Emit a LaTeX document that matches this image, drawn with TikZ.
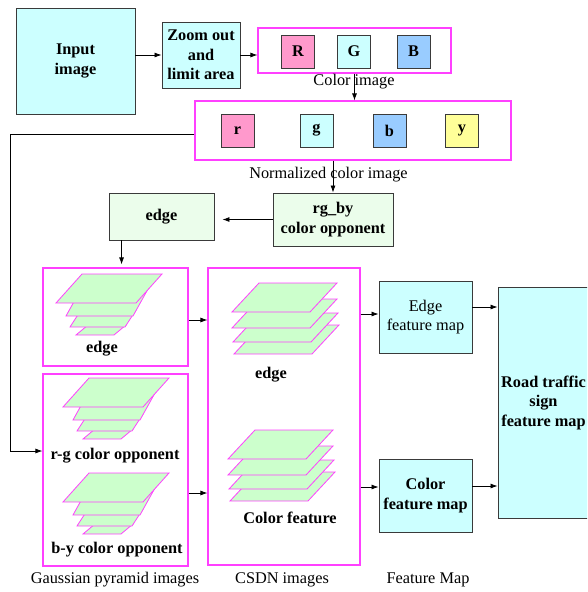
\documentclass[tikz,border=0pt]{standalone}
\usepackage{fontspec}
\setmainfont{Liberation Serif}
\usetikzlibrary{arrows.meta}

\definecolor{cyanfill}{HTML}{CCFFFF}
\definecolor{pinkfill}{HTML}{FF99CC}
\definecolor{bluefill}{HTML}{99CCFF}
\definecolor{yellowfill}{HTML}{FFFF99}
\definecolor{mintfill}{HTML}{EBFDEB}
\definecolor{sheetgreen}{HTML}{CCFFCC}
\definecolor{pinkline}{HTML}{FF40FF}
\definecolor{edgegray}{HTML}{3A3A3A}

\newcommand{\fsz}{\fontsize{16.3}{19.5}\selectfont}
% one tilted image layer: lower left corner, width, height, skew
\newcommand{\sheet}[5]{\draw[sheetstyle] (#1,#2) -- ++(#3,0) -- ++(#5,-#4) -- ++(-#3,0) -- cycle;}
% pyramid of shrinking layers, top layer drawn last
\newcommand{\gpyr}[2]{%
  \sheet{#1+20}{#2+32}{38}{10}{12}
  \sheet{#1+14}{#2+24}{55}{17}{11}
  \sheet{#1+10}{#2+13}{67}{27}{15}
  \sheet{#1}{#2}{80}{29}{26}}
% stack of equal layers
\newcommand{\cstack}[2]{%
  \sheet{#1+2}{#2+42}{78}{29}{27}
  \sheet{#1+1}{#2+30}{78}{29}{27}
  \sheet{#1}{#2+16}{78}{29}{27}
  \sheet{#1}{#2}{78}{29}{27}}

\begin{document}
\begin{tikzpicture}[x=1pt, y=-1pt,
  box/.style={draw=edgegray, line width=0.9pt, inner sep=0pt, align=center, font=\fsz\bfseries},
  chan/.style={box, minimum width=33pt, minimum height=33pt},
  group/.style={draw=pinkline, line width=1.1pt, inner sep=0pt},
  sheetstyle/.style={draw=pinkline, fill=sheetgreen, line width=0.8pt},
  arr/.style={-{Latex[length=7pt,width=5pt]}, line width=0.8pt},
  lbl/.style={font=\fsz, inner sep=0pt}]
  \useasboundingbox (0,0) rectangle (587,592);
  \clip (0,0) rectangle (587,592);

  % input and preprocessing
  \node[box, fill=cyanfill, minimum width=119pt, minimum height=106pt] (input) at (75.5,61) {Input\\image};
  \node[box, fill=cyanfill, minimum width=78pt, minimum height=66pt] (zoom) at (201,55) {Zoom out\\and\\limit area};

  % RGB channels
  \node[group, minimum width=193pt, minimum height=45pt] (colorimg) at (354.5,50.5) {};
  \node[chan, fill=pinkfill] (R) at (298,51.5) {R};
  \node[chan, fill=cyanfill] (G) at (354,51.5) {G};
  \node[chan, fill=bluefill] (B) at (413.5,51.5) {B};
  \node[lbl] (colorlbl) at (354,82) {Color image};

  % normalized channels
  \node[group, minimum width=316pt, minimum height=59pt] (normimg) at (353,130.5) {};
  \node[chan, fill=pinkfill] (r) at (237.5,130.5) {r};
  \node[chan, fill=cyanfill] (g) at (316.5,130.5) {g};
  \node[chan, fill=bluefill] (b) at (389.5,130.5) {b};
  \node[chan, fill=yellowfill] (y) at (462,130.5) {y};
  \node[lbl] (normlbl) at (328.5,175) {Normalized color image};

  % opponent colors and edges
  \node[box, fill=mintfill, minimum width=120pt, minimum height=53pt] (rgby) at (333,219.5) {rg\_by\\color opponent};
  \node[box, fill=mintfill, minimum width=105pt, minimum height=47pt] (edgebox) at (161.5,216.5) {edge};

  % Gaussian pyramids
  \node[group, minimum width=145pt, minimum height=98pt] (gedge) at (115.5,317) {};
  \node[group, minimum width=145pt, minimum height=192pt] (gcolor) at (115.5,470) {};
  \gpyr{56}{303}
  \gpyr{63}{407}
  \gpyr{63}{502}
  \node[lbl, font=\fsz\bfseries] (gedgelbl) at (102,349) {edge};
  \node[lbl, font=\fsz\bfseries] (rglbl) at (115,456) {r-g color opponent};
  \node[lbl, font=\fsz\bfseries] (bylbl) at (117,550) {b-y color opponent};
  \node[lbl] (gausslbl) at (115,580) {Gaussian pyramid images};

  % CSDN images
  \node[group, minimum width=152pt, minimum height=297pt] (csdn) at (284,416.5) {};
  \cstack{232}{312}
  \cstack{228}{459}
  \node[lbl, font=\fsz\bfseries] (cedgelbl) at (271,375) {edge};
  \node[lbl, font=\fsz\bfseries] (ccolorlbl) at (290,518) {Color feature};
  \node[lbl] (csdnlbl) at (282,580) {CSDN images};

  % feature maps
  \node[box, font=\fsz, fill=cyanfill, minimum width=93pt, minimum height=72pt] (edgefm) at (425.5,317) {Edge\\feature map};
  \node[box, fill=cyanfill, minimum width=93pt, minimum height=73pt] (colorfm) at (425.5,495.5) {Color\\feature map};
  \node[lbl] (fmlbl) at (428,580) {Feature Map};
  \node[box, fill=cyanfill, minimum width=91pt, minimum height=231pt] (road) at (543.5,402.5) {Road traffic\\sign\\feature map};

  % connectors
  \draw[arr] (input.east |- zoom) -- (zoom.west);
  \draw[arr] (zoom.east) -- (zoom.east -| colorimg.west);
  \draw[arr] (colorimg.south) -- (normimg.north -| colorimg.south);
  \draw[arr] (normimg.south -| rgby.north) -- (rgby.north);
  \draw[arr, shorten >=8pt] (rgby.west) -- (rgby.west -| edgebox.east);
  \draw[arr, shorten >=3pt] ([xshift=13pt]edgebox.south west) -- ([xshift=13pt]edgebox.south west |- gedge.north);
  \coordinate (nout) at ([yshift=-3.5pt]normimg.west);
  \coordinate (turn) at (10,451);
  \draw[arr] (nout) -| (turn) -- (turn -| gcolor.west);
  \coordinate (gout) at ([yshift=-3pt]gedge.east);
  \draw[arr] (gout) -- (gout -| csdn.west);
  \coordinate (cout) at ([yshift=-23pt]gcolor.east);
  \draw[arr] (cout) -- (cout -| csdn.west);
  \coordinate (ein) at ([yshift=3pt]edgefm.west);
  \draw[arr] (ein -| csdn.east) -- (ein);
  \coordinate (cin) at ([yshift=8.5pt]colorfm.west);
  \draw[arr] (cin -| csdn.east) -- (cin);
  \coordinate (eout) at ([yshift=10pt]edgefm.east);
  \draw[arr] (eout) -- (eout -| road.west);
  \coordinate (fout) at ([yshift=9.5pt]colorfm.east);
  \draw[arr] (fout) -- (fout -| road.west);
\end{tikzpicture}
\end{document}
